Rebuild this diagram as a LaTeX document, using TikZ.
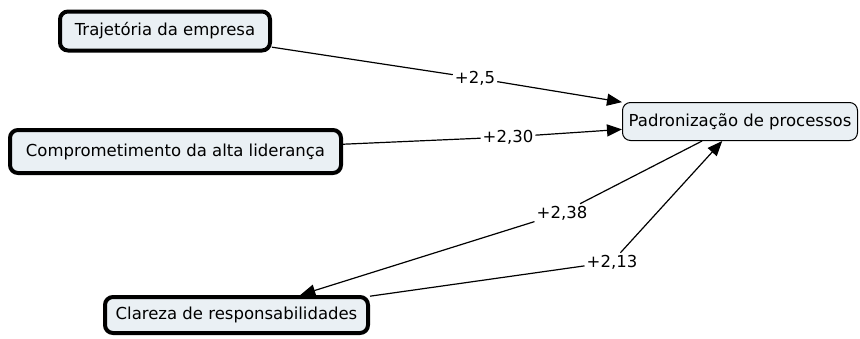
\documentclass[tikz,border=0pt]{standalone}
\usepackage{fontspec}
\setmainfont{DejaVu Sans}
\usetikzlibrary{arrows.meta}
\definecolor{boxfill}{RGB}{234,240,244}
\begin{document}
\begin{tikzpicture}[x=1pt,y=-1pt,
  font=\fontsize{16.5}{19}\selectfont,
  concept/.style={draw=black,fill=boxfill,rounded corners=8pt,inner sep=0pt,align=center},
  heavy/.style={concept,line width=4pt},
  light/.style={concept,line width=1pt},
  linklabel/.style={inner sep=2pt},
  link/.style={line width=1.2pt},
  arrowlink/.style={link,-{Triangle[length=15pt,width=12pt]}}]
\useasboundingbox (0,0) rectangle (860,338);

% concepts
\node[heavy,minimum width=210pt,minimum height=39pt] (trj) at (165,31) {Trajetória da empresa};
\node[heavy,minimum width=331pt,minimum height=43pt] (cmp) at (175.5,151.5) {Comprometimento da alta liderança};
\node[light,minimum width=235pt,minimum height=38pt] (pad) at (740,121.5) {Padronização de processos};
\node[heavy,minimum width=263pt,minimum height=36pt] (clr) at (236.5,315) {Clareza de responsabilidades};

% link labels
\node[linklabel] (l1) at (475,78) {+2,5};
\node[linklabel] (l2) at (508,137) {+2,30};
\node[linklabel] (l3) at (562,213) {+2,38};
\node[linklabel] (l4) at (612,262) {+2,13};

% connectors
\draw[link] (trj) -- (l1);
\draw[arrowlink] (l1) -- (pad);
\draw[link] (cmp) -- (l2);
\draw[arrowlink] (l2) -- (pad);
\draw[link] (pad) -- (l3);
\draw[arrowlink] (l3) -- (clr);
\draw[link] (clr) -- (l4);
\draw[arrowlink] (l4) -- (pad);
\end{tikzpicture}
\end{document}
